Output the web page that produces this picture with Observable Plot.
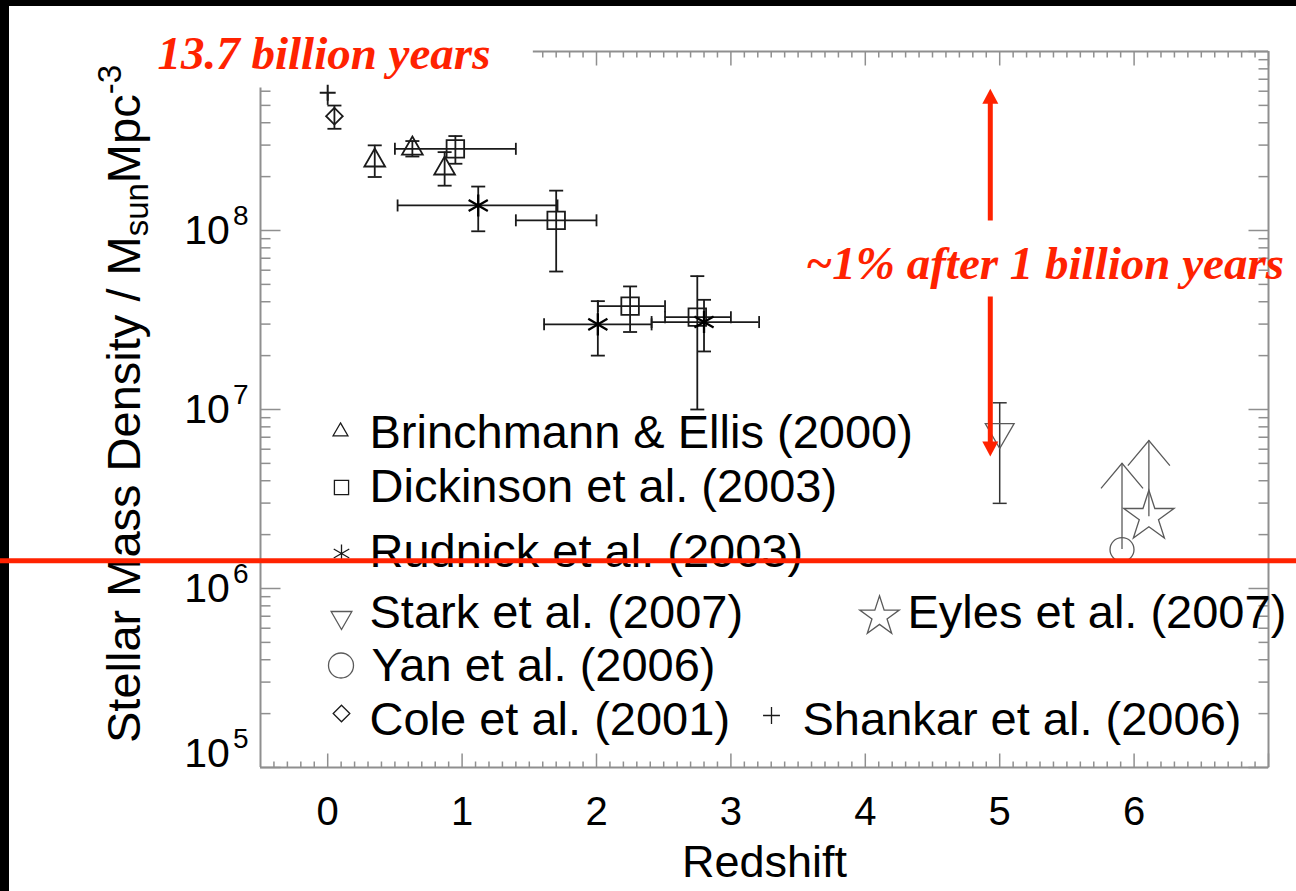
<!DOCTYPE html>
<html>
<head>
<meta charset="utf-8">
<script src="https://cdn.jsdelivr.net/npm/d3@7"></script>
<script src="https://cdn.jsdelivr.net/npm/@observablehq/plot@0.6"></script>
<style>
html, body { margin: 0; padding: 0; background: #000; overflow: hidden; width: 1296px; height: 891px; }
#paper { position: absolute; left: 9px; top: 6px; width: 1287px; height: 885px; background: #fff; }
#chart { position: absolute; left: 0; top: 0; width: 1296px; height: 891px; }
</style>
</head>
<body>
<div id="paper"></div>
<div id="chart"></div>
<script>
// ------------------------------------------------------------------ data
// Brinchmann & Ellis (2000)
const brinZ   = [0.35, 0.63, 0.87];
const brinRho = [2.46e8, 2.87e8, 2.22e8];
const brinLo  = [1.99e8, 2.59e8, 1.78e8];
const brinHi  = [2.99e8, 3.16e8, 2.74e8];

// Dickinson et al. (2003)
const dickZ   = [0.95, 1.70, 2.25, 2.75];
const dickZLo = [0.50, 1.40, 2.01, 2.51];
const dickZHi = [1.40, 2.00, 2.51, 3.00];
const dickRho = [2.86e8, 1.14e8, 3.78e7, 3.28e7];
const dickLo  = [2.36e8, 5.9e7, 2.71e7, 1.0e7];
const dickHi  = [3.37e8, 1.67e8, 4.87e7, 5.56e7];

// Rudnick et al. (2003)
const rudZ   = [1.12, 2.01, 2.80];
const rudZLo = [0.52, 1.61, 2.41];
const rudZHi = [1.71, 2.41, 3.21];
const rudRho = [1.38e8, 2.99e7, 3.08e7];
const rudLo  = [9.9e7, 2.0e7, 2.11e7];
const rudHi  = [1.76e8, 4.03e7, 4.1e7];

// Cole et al. (2001)
const coleZ = [0.05], coleRho = [4.35e8], coleLo = [3.70e8], coleHi = [4.99e8];
// Shankar et al. (2006)
const shankarZ = [0.0], shankarRho = [5.88e8], shankarLo = [5.0e8];
// Stark et al. (2007)
const starkZ = [5.0], starkRho = [7.5e6], starkLo = [2.99e6], starkHi = [1.09e7];
// Yan et al. (2006) – lower limit
const yanZ = [5.91], yanRho = [1.65e6], yanLimit = [5.0e6];
// Eyles et al. (2007) – lower limit
const eylesZ = [6.11], eylesRho = [2.52e6], eylesLimit = [6.7e6];

// axis ticks / labels
const xTickValues = [0, 1, 2, 3, 4, 5, 6];
const xTickLabels = ["0", "1", "2", "3", "4", "5", "6"];
const yTickValues = [1e5, 1e6, 1e7, 1e8];
const yTickLabels = ["10^{5}", "10^{6}", "10^{7}", "10^{8}"];
const xTitle = "Redshift";
const yTitle = "Stellar Mass Density / M_{sun}Mpc^{-3}";

// legend
const legendLabels  = ["Brinchmann & Ellis (2000)", "Dickinson et al. (2003)", "Rudnick et al. (2003)",
                       "Stark et al. (2007)", "Yan et al. (2006)", "Cole et al. (2001)",
                       "Shankar et al. (2006)", "Eyles et al. (2007)"];
const legendSymbols = ["triangle", "square", "asterisk", "triangle", "circle", "diamond2", "plus", "star"];

// red annotations
const annotationTexts = ["13.7 billion years", "~1% after 1 billion years"];
const redLineValue = [1.43e6];
const redArrowZ = 4.93;
const redArrowUp = [1.13e8, 6.2e8];     // shaft start, tip
const redArrowDown = [4.25e7, 5.46e6];  // shaft start, tip

// ------------------------------------------------------------------ layout / style
const X_DOMAIN = [-0.5, 7], Y_DOMAIN = [1e5, 1e9];
const M = {left: 260, right: 28, top: 51, bottom: 124};
const W = 1296, H = 891;
const SANS = "'Liberation Sans', Arial, Helvetica, sans-serif";
const SERIF = "'Liberation Serif', 'Times New Roman', serif";
const INK = "#1a1a1a", GREY = "#5a5a5a", AXIS = "#8f8f8f", RED = "#ff2200";
const at = (px, py) => ({frameAnchor: "top-left", dx: px - M.left, dy: py - M.top});

const seg = (x1, y1, x2, y2) => ({draw(c) { c.moveTo(x1, y1); c.lineTo(x2, y2); }});
const capH = seg(-7, 0, 7, 0);
const capV = seg(0, -6, 0, 6);
const chevron = {draw(c) { c.moveTo(-21, 25); c.lineTo(0, 0); c.lineTo(21, 25); }};
const headUp = {draw(c) { c.moveTo(0, 0); c.lineTo(-8, 15); c.lineTo(8, 15); c.closePath(); }};
const headDown = {draw(c) { c.moveTo(0, 0); c.lineTo(-8, -15); c.lineTo(8, -15); c.closePath(); }};

const tbl = (z, rho, lo, hi, zlo, zhi) => z.map((d, i) => ({
  z: d, rho: rho[i], lo: lo ? lo[i] : undefined, hi: hi ? hi[i] : undefined,
  zlo: zlo ? zlo[i] : undefined, zhi: zhi ? zhi[i] : undefined}));

const brin = tbl(brinZ, brinRho, brinLo, brinHi);
const dick = tbl(dickZ, dickRho, dickLo, dickHi, dickZLo, dickZHi);
const rud = tbl(rudZ, rudRho, rudLo, rudHi, rudZLo, rudZHi);
const cole = tbl(coleZ, coleRho, coleLo, coleHi);
const shankar = tbl(shankarZ, shankarRho, shankarLo, shankarRho);
const stark = tbl(starkZ, starkRho, starkLo, starkHi);
const yan = tbl(yanZ, yanRho, yanRho, yanLimit);
const eyles = tbl(eylesZ, eylesRho, eylesRho, eylesLimit);

const vErr = (data, stroke, sw, caps = true) => [
  Plot.ruleX(data, {x: "z", y1: "lo", y2: "hi", stroke, strokeWidth: sw}),
  ...(caps ? [
    Plot.dot(data, {x: "z", y: "lo", symbol: capH, stroke, strokeWidth: sw, fill: "none"}),
    Plot.dot(data, {x: "z", y: "hi", symbol: capH, stroke, strokeWidth: sw, fill: "none"})] : [])
];
const hErr = (data, stroke, sw) => [
  Plot.ruleY(data, {y: "rho", x1: "zlo", x2: "zhi", stroke, strokeWidth: sw}),
  Plot.dot(data, {x: "zlo", y: "rho", symbol: capV, stroke, strokeWidth: sw, fill: "none"}),
  Plot.dot(data, {x: "zhi", y: "rho", symbol: capV, stroke, strokeWidth: sw, fill: "none"})
];

// frame & ticks
const frameH = [{y: 1e5, x1: -0.5, x2: 7}, {y: 1e9, x1: 1.53, x2: 7}];
const frameV = [{x: -0.5, y1: 1e5, y2: 6.25e8}, {x: 7, y1: 1e5, y2: 1e9}];
const xt = d3.range(-4, 71).map(i => ({v: i / 10, major: i % 10 === 0}));
const yt = [];
for (let k = 5; k <= 8; k++) for (let m = 1; m <= 9; m++) yt.push({v: m * 10 ** k, major: m === 1});
yt.push({v: 1e9, major: true});

const tickMarks = [];
const tk = (data, opts, sym) => tickMarks.push(Plot.dot(data, {...opts, symbol: sym, stroke: AXIS, strokeWidth: 1.5, fill: "none"}));
tk(xt.filter(d => d.major), {x: "v", y: () => 1e5}, seg(0, 0, 0, -14));
tk(xt.filter(d => !d.major), {x: "v", y: () => 1e5}, seg(0, 0, 0, -6));
tk(xt.filter(d => d.major && d.v >= 1.55), {x: "v", y: () => 1e9}, seg(0, 0, 0, 14));
tk(xt.filter(d => !d.major && d.v >= 1.55), {x: "v", y: () => 1e9}, seg(0, 0, 0, 6));
tk(yt.filter(d => d.major && d.v <= 6.25e8), {y: "v", x: () => -0.5}, seg(0, 0, 20, 0));
tk(yt.filter(d => !d.major && d.v <= 6.25e8), {y: "v", x: () => -0.5}, seg(0, 0, 10, 0));
tk(yt.filter(d => d.major), {y: "v", x: () => 7}, seg(0, 0, -20, 0));
tk(yt.filter(d => !d.major), {y: "v", x: () => 7}, seg(0, 0, -10, 0));

// legend layout (page pixels)
const legendLayout = [
  {sx: 340, sy: 431, r: 5.5, rot: 0, tx: 369, ty: 447, c: INK},
  {sx: 341, sy: 487, r: 8, rot: 0, tx: 369, ty: 501, c: INK},
  {sx: 341, sy: 553, r: 8.5, rot: 0, tx: 369, ty: 566, c: INK},
  {sx: 341, sy: 617, r: 7.7, rot: 180, tx: 369, ty: 627, c: GREY},
  {sx: 340.5, sy: 665, r: 12.5, rot: 0, tx: 371, ty: 680, c: GREY},
  {sx: 341, sy: 713, r: 7.5, rot: 0, tx: 369, ty: 734, c: INK},
  {sx: 771, sy: 715, r: 5.5, rot: 0, tx: 802, ty: 734, c: INK},
  {sx: 879, sy: 616, r: 12.4, rot: 0, tx: 907, ty: 627, c: GREY}
];
const legendMarks = legendLabels.flatMap((label, i) => {
  const L = legendLayout[i];
  return [
    Plot.dot([0], {...at(L.sx, L.sy), symbol: legendSymbols[i], r: L.r, rotate: L.rot,
                   stroke: L.c, strokeWidth: 1.3, fill: "none"}),
    Plot.text([label], {...at(L.tx, L.ty), textAnchor: "start", lineAnchor: "bottom",
                        fontFamily: SANS, fontSize: 47, fill: "#000"})
  ];
});

// red arrow helper (pixel head length on log scale)
const ys = d3.scaleLog().domain(Y_DOMAIN).range([H - M.bottom, M.top]);
const upShaft = [{x: redArrowZ, y1: redArrowUp[0], y2: ys.invert(ys(redArrowUp[1]) + 13)}];
const downShaft = [{x: redArrowZ, y1: redArrowDown[0], y2: ys.invert(ys(redArrowDown[1]) - 13)}];

const chart = Plot.plot({
  width: W, height: H,
  marginLeft: M.left, marginRight: M.right, marginTop: M.top, marginBottom: M.bottom,
  style: {background: "transparent", overflow: "visible"},
  x: {domain: X_DOMAIN, axis: null},
  y: {type: "log", domain: Y_DOMAIN, axis: null},
  marks: [
    // frame
    Plot.ruleY(frameH, {y: "y", x1: "x1", x2: "x2", stroke: AXIS, strokeWidth: 2}),
    Plot.ruleX(frameV, {x: "x", y1: "y1", y2: "y2", stroke: AXIS, strokeWidth: 2}),
    ...tickMarks,

    // error bars
    ...hErr(dick, INK, 1.8), ...vErr(dick, INK, 1.8),
    ...hErr(rud, INK, 1.8), ...vErr(rud, INK, 1.8),
    ...vErr(brin, INK, 1.8),
    ...vErr(cole, INK, 1.8),
    ...vErr(shankar, INK, 1.8, false),
    ...vErr(stark, "#333", 1.5),
    ...vErr(yan, GREY, 1.3, false),
    ...vErr(eyles, GREY, 1.3, false),
    Plot.dot(yan, {x: "z", y: "hi", symbol: chevron, stroke: GREY, strokeWidth: 1.3, fill: "none"}),
    Plot.dot(eyles, {x: "z", y: "hi", symbol: chevron, stroke: GREY, strokeWidth: 1.3, fill: "none"}),

    // symbols
    Plot.dot(dick, {x: "z", y: "rho", symbol: "square", r: 9.9, stroke: INK, strokeWidth: 1.8, fill: "none"}),
    Plot.dot(rud, {x: "z", y: "rho", symbol: "asterisk", r: 10.5, stroke: "#000", strokeWidth: 2.3, fill: "none"}),
    Plot.dot(brin, {x: "z", y: "rho", symbol: "triangle", r: 7.7, stroke: INK, strokeWidth: 1.8, fill: "none"}),
    Plot.dot(cole, {x: "z", y: "rho", symbol: "diamond2", r: 7.5, stroke: INK, strokeWidth: 1.8, fill: "none"}),
    Plot.dot(shankar, {x: "z", y: "rho", symbol: "plus", r: 5.2, stroke: INK, strokeWidth: 2, fill: "none"}),
    Plot.dot(stark, {x: "z", y: "rho", symbol: "triangle", rotate: 180, r: 10.7, stroke: GREY, strokeWidth: 1.3, fill: "none"}),
    Plot.dot(yan, {x: "z", y: "rho", symbol: "circle", r: 12, stroke: GREY, strokeWidth: 1.3, fill: "none"}),
    Plot.dot(eyles, {x: "z", y: "rho", symbol: "star", r: 15.8, stroke: GREY, strokeWidth: 1.3, fill: "none"}),

    // legend
    ...legendMarks,

    // tick labels and titles
    Plot.text(xTickValues, {x: d => d, frameAnchor: "bottom", dy: 57, lineAnchor: "bottom",
      text: (d, i) => xTickLabels[i], fontFamily: SANS, fontSize: 40, fill: "#000"}),
    Plot.text(yTickValues.slice(1), {y: d => d, frameAnchor: "left", dx: -12, textAnchor: "end",
      lineAnchor: "middle", text: (d, i) => yTickLabels[i + 1], fontFamily: SANS, fontSize: 41, fill: "#000"}),
    Plot.text(yTickValues.slice(0, 1), {y: d => d, frameAnchor: "left", dx: -12, dy: -14, textAnchor: "end",
      lineAnchor: "middle", text: (d, i) => yTickLabels[i], fontFamily: SANS, fontSize: 41, fill: "#000"}),
    Plot.text([xTitle], {frameAnchor: "bottom", dy: 109, lineAnchor: "bottom",
      fontFamily: SANS, fontSize: 45, fill: "#000"}),
    Plot.text([yTitle], {frameAnchor: "left", dx: -121, dy: -5.5, rotate: -90, textAnchor: "middle",
      lineAnchor: "bottom", fontFamily: SANS, fontSize: 47, fill: "#000"}),

    // red annotations
    Plot.ruleY(redLineValue, {y: d => d, x1: () => -2.6, x2: () => 7.6, stroke: RED, strokeWidth: 5}),
    Plot.ruleX(upShaft, {x: "x", y1: "y1", y2: "y2", stroke: RED, strokeWidth: 5}),
    Plot.ruleX(downShaft, {x: "x", y1: "y1", y2: "y2", stroke: RED, strokeWidth: 5}),
    Plot.dot([{x: redArrowZ, y: redArrowUp[1]}], {x: "x", y: "y", symbol: headUp, fill: RED, stroke: "none"}),
    Plot.dot([{x: redArrowZ, y: redArrowDown[1]}], {x: "x", y: "y", symbol: headDown, fill: RED, stroke: "none"}),
    Plot.text([annotationTexts[0]], {...at(157, 68), textAnchor: "start", lineAnchor: "bottom",
      fontFamily: SERIF, fontWeight: "bold", fontStyle: "italic", fontSize: 47, fill: RED}),
    Plot.text([annotationTexts[1]], {...at(805, 278), textAnchor: "start", lineAnchor: "bottom",
      fontFamily: SERIF, fontWeight: "bold", fontStyle: "italic", fontSize: 47, fill: RED})
  ]
});

// convert ^{..} and _{..} markup into real superscript/subscript tspans
const NS = "http://www.w3.org/2000/svg";
chart.querySelectorAll("text").forEach(t => {
  const s = t.textContent;
  if (!/[_^]\{/.test(s)) return;
  const isTitle = s.includes("_{");
  const P = isTitle ? {sub: {size: 33, shift: 8}, sup: {size: 33, shift: 19, dx: 0}}
                    : {sup: {size: 28, shift: 19, dx: 3}};
  const parts = s.split(/([_^]\{[^}]*\})/).filter(p => p);
  while (t.firstChild) t.removeChild(t.firstChild);
  let cur = 0;
  for (const p of parts) {
    const ts = document.createElementNS(NS, "tspan");
    let target = 0, txt = p;
    if (p.startsWith("^{")) {
      target = -P.sup.shift; txt = p.slice(2, -1);
      ts.setAttribute("font-size", P.sup.size);
      if (P.sup.dx) ts.setAttribute("dx", P.sup.dx);
    } else if (p.startsWith("_{")) {
      target = P.sub.shift; txt = p.slice(2, -1);
      ts.setAttribute("font-size", P.sub.size);
    }
    if (target - cur !== 0) ts.setAttribute("dy", target - cur);
    cur = target;
    ts.textContent = txt;
    t.appendChild(ts);
  }
});

document.getElementById("chart").appendChild(chart);
</script>
</body>
</html>
